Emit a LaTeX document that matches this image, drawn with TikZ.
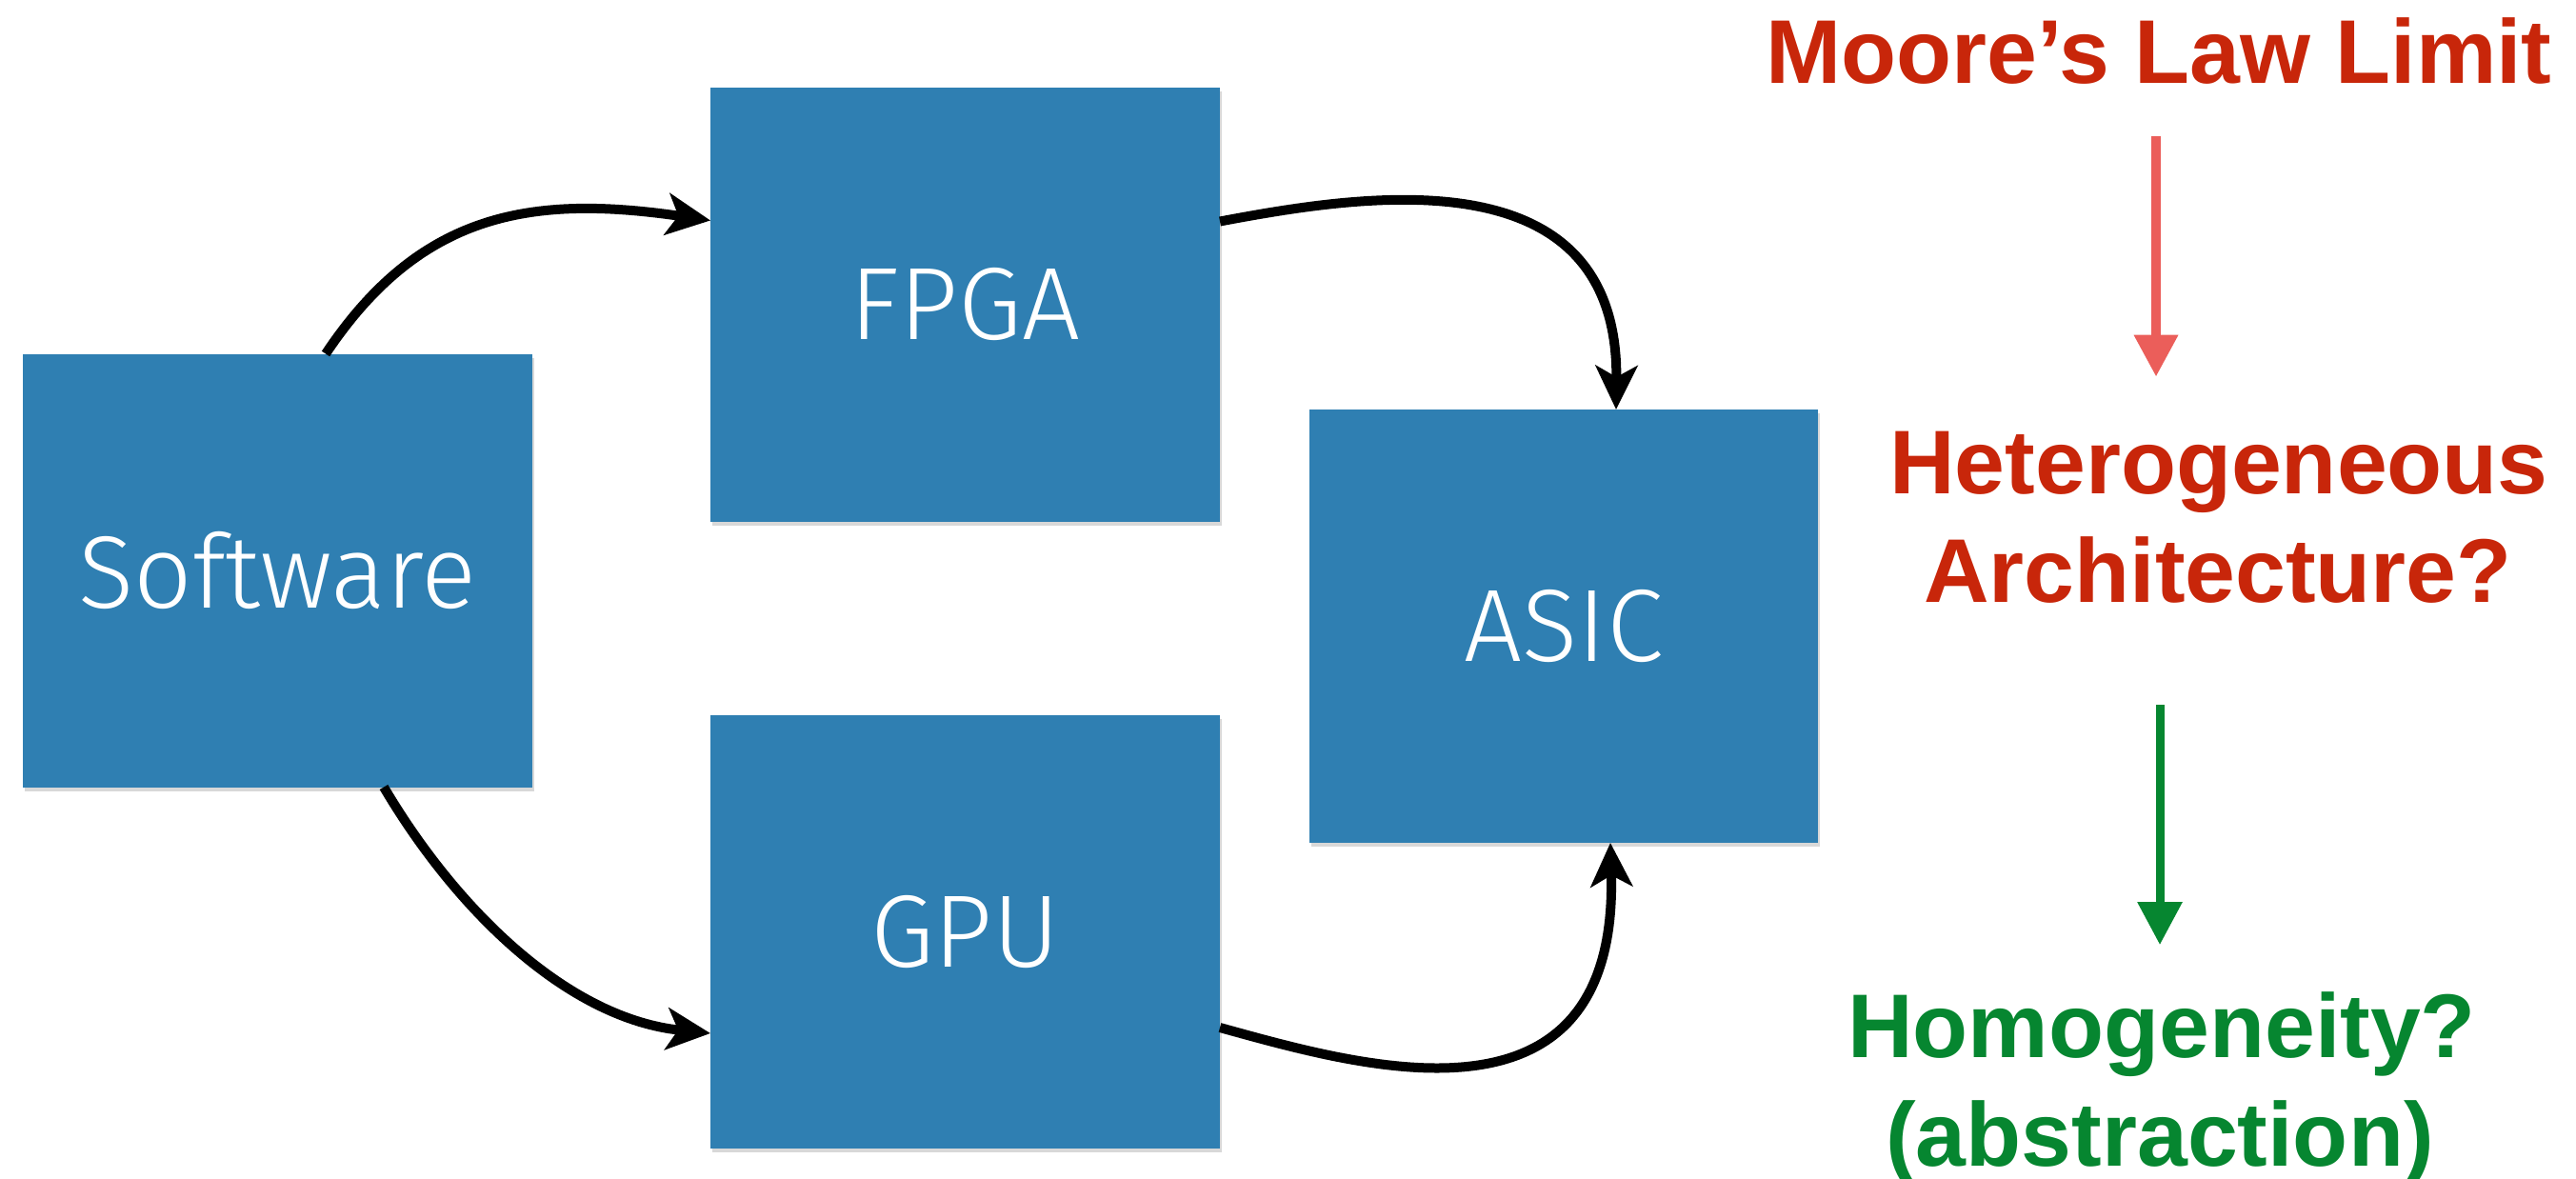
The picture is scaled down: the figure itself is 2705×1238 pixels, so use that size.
\documentclass[tikz,border=0pt]{standalone}
\usepackage{fontspec}
\newfontfamily\boxfont{Fira Sans}[UprightFont=* Light]
\newfontfamily\headfont{Liberation Sans}
\usetikzlibrary{arrows.meta,shadows,calc}

\definecolor{paperblue}{RGB}{47,127,178}
\definecolor{limitred}{RGB}{200,38,10}
\definecolor{arrowred}{RGB}{235,94,90}
\definecolor{homgreen}{RGB}{6,134,48}

\tikzset{
  box/.style={fill=paperblue, minimum width=535pt, minimum height=455pt,
    inner sep=0pt, outer sep=0pt, text=white,
    font=\boxfont\fontsize{108}{120}\selectfont,
    drop shadow={shadow xshift=2pt, shadow yshift=-4pt, opacity=0.3}},
  flow/.style={line width=10pt, -{Stealth[length=46pt,width=44pt,inset=12pt]}},
  headline/.style={inner sep=0pt, outer sep=0pt, anchor=base,
    font=\headfont\bfseries\fontsize{95}{114}\selectfont},
  redflow/.style={draw=arrowred, line width=10pt,
    -{Triangle[length=44pt,width=44pt]}, arrowred},
  greenflow/.style={draw=homgreen, line width=9pt,
    -{Triangle[length=45pt,width=45pt]}, homgreen}
}

\begin{document}
\begin{tikzpicture}[x=1pt,y=-1pt]
  \fill[white] (0,0) rectangle (2705,1238);
  \useasboundingbox (0,0) rectangle (2705,1238);

  % processing targets
  \node[box] (sw)   at (291.5,599)   {Software};
  \node[box] (fpga) at (1013.5,320)  {FPGA};
  \node[box] (gpu)  at (1013.5,978.5){GPU};
  \node[box, minimum width=534pt] (asic) at (1642,657.5) {ASIC};

  % paths between the targets
  \draw[flow] ($(sw.north west)+(318,0)$)
     .. controls +(100,-150) and +(-186,-27) .. ($(fpga.north west)+(0,139)$);
  \draw[flow] ($(sw.south west)+(379,0)$)
     .. controls +(80,135) and +(-146,-15) .. ($(gpu.north west)+(0,334)$);
  \draw[flow] ($(fpga.north east)+(0,140)$)
     .. controls +(149,-28) and +(3,-270) .. ($(asic.north west)+(322,0)$);
  \draw[flow] ($(gpu.north east)+(0,328)$)
     .. controls +(149,41) and +(9,315) .. ($(asic.south west)+(316,0)$);

  % headings on the right
  \node[headline, text=limitred] (moore) at (2267,88)  {Moore’s Law Limit};
  \node[headline, text=limitred] (het)   at (2330,518) {Heterogeneous};
  \node[headline, text=limitred] (arch)  at (2329,632) {Architecture?};
  \node[headline, text=homgreen] (homog) at (2270,1110) {Homogeneity?};
  \node[headline, text=homgreen] (abstr) at (2268,1224) {(abstraction)};

  \coordinate (redstart) at ($(moore.base)+(-3,55)$);
  \coordinate (greenstart) at ($(arch.base -| homog.north)+(-2,108)$);
  \draw[redflow, shorten >=57pt] (redstart) -- (redstart |- het.north);
  \draw[greenflow, shorten >=49pt] (greenstart) -- (greenstart |- homog.north);
\end{tikzpicture}
\end{document}
